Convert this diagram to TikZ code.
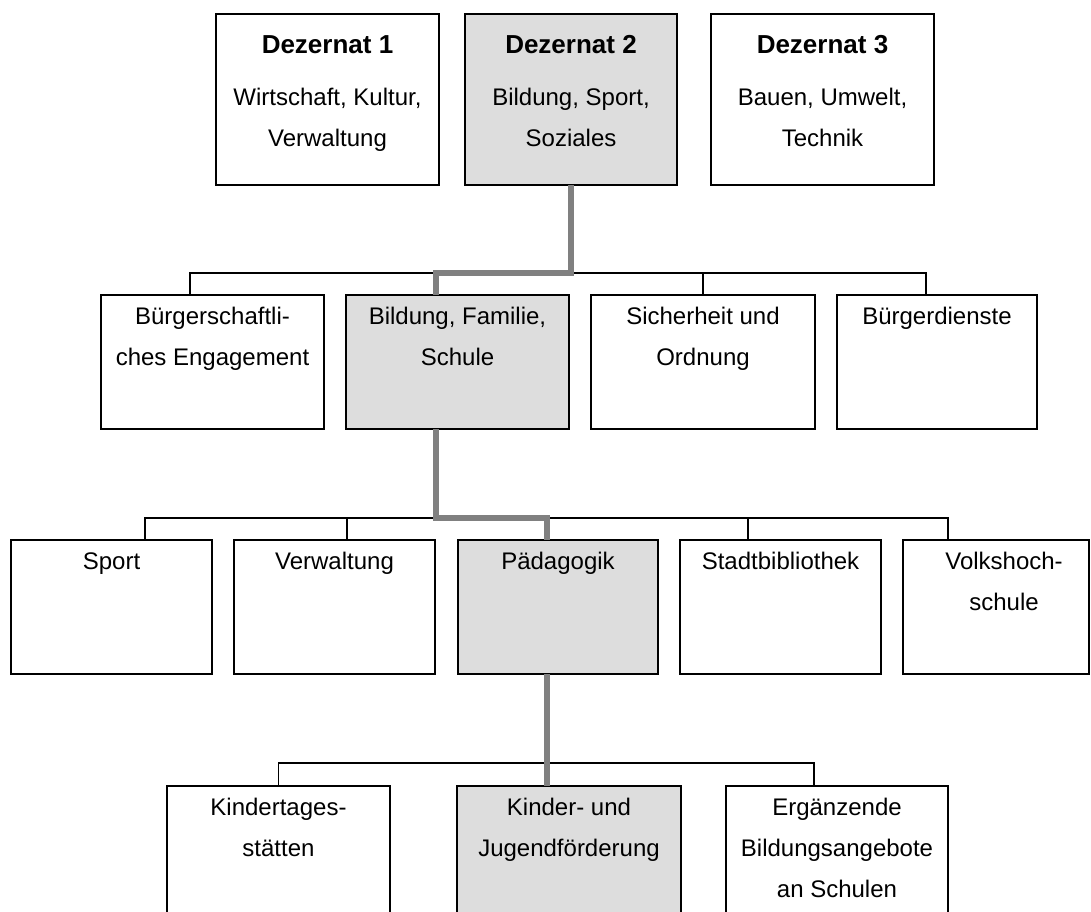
\documentclass[tikz,border=0pt]{standalone}
\usepackage{fontspec}
\setmainfont{Liberation Sans}
\usepackage{tikz}
\usetikzlibrary{positioning}
\definecolor{routegray}{RGB}{128,128,128}
\definecolor{boxgray}{RGB}{221,221,221}

\tikzset{
  unit/.style={draw=black, line width=0.75pt, anchor=north west, inner sep=0pt, outer sep=0pt},
  active/.style={unit, fill=boxgray},
  row1/.style={minimum height=85.5pt},
  row2/.style={minimum height=67pt},
  row4/.style={minimum height=75pt},
  txt/.style={align=center, inner sep=0pt, font=\fontsize{12}{20.5}\selectfont},
  tie/.style={line width=0.75pt},
  route/.style={draw=routegray, line width=3.3pt}
}

\begin{document}
\begin{tikzpicture}[x=0.5pt, y=-0.5pt]
\clip (0,0) rectangle (1091,911);
% Dezernate
\node[unit, row1, minimum width=111.5pt] (u11) at (216,14) {};
\node[active, row1, minimum width=106pt] (u12) at (465,14) {};
\node[unit, row1, minimum width=111.5pt] (u13) at (711,14) {};
% Fachbereiche
\node[unit, row2, minimum width=111.5pt] (u21) at (101,295) {};
\node[active, row2, minimum width=111.5pt] (u22) at (346,295) {};
\node[unit, row2, minimum width=112pt] (u23) at (591,295) {};
\node[unit, row2, minimum width=100pt] (u24) at (837,295) {};
% Aemter
\node[unit, row2, minimum width=100.5pt] (u31) at (11,540) {};
\node[unit, row2, minimum width=100.5pt] (u32) at (234,540) {};
\node[active, row2, minimum width=100pt] (u33) at (458,540) {};
\node[unit, row2, minimum width=100.5pt] (u34) at (680,540) {};
\node[unit, row2, minimum width=93pt] (u35) at (903,540) {};
% Abteilungen
\node[unit, row4, minimum width=111.5pt] (u41) at (167,786) {};
\node[active, row4, minimum width=112pt] (u42) at (457,786) {};
\node[unit, row4, minimum width=111pt] (u43) at (726,786) {};

% texts
\node[txt, below=10.5pt of u11.north] (t11) {{\fontsize{13}{20.5}\selectfont\bfseries Dezernat 1}\\[5.5pt]Wirtschaft, Kultur,\\Verwaltung};
\node[txt, below=10.5pt of u12.north] (t12) {{\fontsize{13}{20.5}\selectfont\bfseries Dezernat 2}\\[5.5pt]Bildung, Sport,\\Soziales};
\node[txt, below=10.5pt of u13.north] (t13) {{\fontsize{13}{20.5}\selectfont\bfseries Dezernat 3}\\[5.5pt]Bauen, Umwelt,\\Technik};
\node[txt, below=6pt of u21.north] (t21) {Bürgerschaftli-\\ches Engagement};
\node[txt, below=6pt of u22.north] (t22) {Bildung, Familie,\\Schule};
\node[txt, below=6pt of u23.north] (t23) {Sicherheit und\\Ordnung};
\node[txt, below=6pt of u24.north] (t24) {Bürgerdienste};
\node[txt, below=6pt of u31.north] (t31) {Sport};
\node[txt, below=6pt of u32.north] (t32) {Verwaltung};
\node[txt, below=6pt of u33.north] (t33) {Pädagogik};
\node[txt, below=6pt of u34.north] (t34) {Stadtbibliothek};
\node[txt, below=6pt of u35.north, xshift=4pt] (t35) {Volkshoch-\\schule};
\node[txt, below=6pt of u41.north] (t41) {Kindertages-\\stätten};
\node[txt, below=6pt of u42.north] (t42) {Kinder- und\\Jugendförderung};
\node[txt, below=6pt of u43.north] (t43) {Ergänzende\\Bildungsangebote\\an Schulen};

% thin tree lines
\coordinate (s21) at (190,273);
\coordinate (s22) at (436,273);
\coordinate (s24) at (926,273);
\draw[tie] (s21 |- u21.north) -- (s21) -- (s24) -- (s24 |- u24.north);
\draw[tie] (u23.north) -- (u23.north |- s21);
\coordinate (s31) at (145,518);
\coordinate (s32) at (347,518);
\coordinate (s33) at (547,518);
\coordinate (s34) at (748,518);
\coordinate (s35) at (948,518);
\draw[tie] (s31 |- u31.north) -- (s31) -- (s35) -- (s35 |- u35.north);
\draw[tie] (s32) -- (s32 |- u32.north);
\draw[tie] (s34) -- (s34 |- u34.north);
\coordinate (s43) at (814,763);
\draw[tie] (u41.north) |- (s43) -- (s43 |- u43.north);

% highlighted route
\draw[route] (u12.south) |- (s22) -- (s22 |- u22.north);
\draw[route] (s22 |- u22.south) |- (s33) -- (s33 |- u33.north);
\draw[route] (s33 |- u33.south) -- (s33 |- u42.north);
\end{tikzpicture}
\end{document}
